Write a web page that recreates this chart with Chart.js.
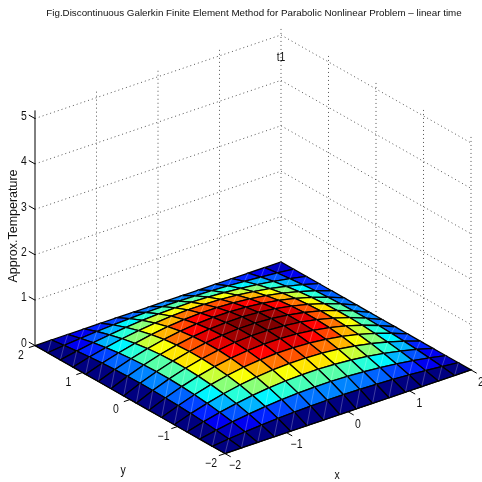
<!DOCTYPE html>
<html lang="en">
<head>
  <meta charset="UTF-8" />
  <title>Parabolic Nonlinear Problem</title>
  <script src="https://cdn.jsdelivr.net/npm/chart.js"></script>
  <style>
    html, body { margin: 0; padding: 0; background: #fff; }
    canvas { display: block; }
  </style>
</head>
<body>
  <canvas id="surf" width="482" height="482"></canvas>
  <script>
    const titleText = 'Fig.Discontinuous Galerkin Finite Element Method for Parabolic Nonlinear Problem \u2013 linear time';
    const xTicks = [-2, -1, 0, 1, 2];
    const yTicks = [-2, -1, 0, 1, 2];
    const zTicks = [0, 1, 2, 3, 4, 5];
    const zTop = 5.18;

    const gridX = [-2, -1.733, -1.467, -1.2, -0.933, -0.667, -0.4, -0.133, 0.133, 0.4, 0.667, 0.933, 1.2, 1.467, 1.733, 2];
    const gridY = [-2, -1.733, -1.467, -1.2, -0.933, -0.667, -0.4, -0.133, 0.133, 0.4, 0.667, 0.933, 1.2, 1.467, 1.733, 2];

    // heights, rows go with gridY
    const surfaceZ = [
      [0, 0, 0, 0, 0, 0, 0, 0, 0, 0, 0, 0, 0, 0, 0, 0],
      [0, .039, .072, .100, .123, .139, .150, .156, .156, .150, .139, .123, .100, .072, .039, 0],
      [0, .072, .134, .185, .226, .257, .278, .289, .289, .278, .257, .226, .185, .134, .072, 0],
      [0, .100, .185, .257, .314, .357, .386, .400, .400, .386, .357, .314, .257, .185, .100, 0],
      [0, .123, .226, .314, .384, .436, .471, .488, .488, .471, .436, .384, .314, .226, .123, 0],
      [0, .139, .257, .357, .436, .496, .535, .555, .555, .535, .496, .436, .357, .257, .139, 0],
      [0, .150, .278, .386, .471, .535, .578, .599, .599, .578, .535, .471, .386, .278, .150, 0],
      [0, .156, .289, .400, .488, .555, .599, .621, .621, .599, .555, .488, .400, .289, .156, 0],
      [0, .156, .289, .400, .488, .555, .599, .621, .621, .599, .555, .488, .400, .289, .156, 0],
      [0, .150, .278, .386, .471, .535, .578, .599, .599, .578, .535, .471, .386, .278, .150, 0],
      [0, .139, .257, .357, .436, .496, .535, .555, .555, .535, .496, .436, .357, .257, .139, 0],
      [0, .123, .226, .314, .384, .436, .471, .488, .488, .471, .436, .384, .314, .226, .123, 0],
      [0, .100, .185, .257, .314, .357, .386, .400, .400, .386, .357, .314, .257, .185, .100, 0],
      [0, .072, .134, .185, .226, .257, .278, .289, .289, .278, .257, .226, .185, .134, .072, 0],
      [0, .039, .072, .100, .123, .139, .150, .156, .156, .150, .139, .123, .100, .072, .039, 0],
      [0, 0, 0, 0, 0, 0, 0, 0, 0, 0, 0, 0, 0, 0, 0, 0]
    ];

    // 3D view: how one data unit along x, y, z lands on the flat chart scales
    const view = { xh: 61.5, xv: 20.9, yh: -47.5, yv: 27, zv: 45.4 };
    const project = (x, y, z) => ({
      x: x * view.xh + y * view.yh,
      y: x * view.xv + y * view.yv + z * view.zv
    });

    // MATLAB jet, 64 steps
    function jet(t) {
      const v = Math.min(63, Math.floor(t * 64)) / 63;
      const c = k => Math.max(0, Math.min(1, 1.5 - Math.abs(4 * v - k)));
      return `rgb(${Math.round(c(3) * 255)},${Math.round(c(2) * 255)},${Math.round(c(1) * 255)})`;
    }

    const zMax = Math.max(...surfaceZ.flat());
    const layers = [];   // back to front

    function addLine(points, color, width, dash) {
      layers.push({
        data: points, showLine: true, fill: false, tension: 0, pointRadius: 0, clip: false,
        borderColor: color, borderWidth: width, borderDash: dash || []
      });
    }

    // wall grid
    const dots = [1, 3];
    const dotColor = '#555';
    zTicks.slice(1).forEach(z => {
      addLine([project(-2, 2, z), project(2, 2, z), project(2, -2, z)], dotColor, 1, dots);
    });
    xTicks.slice(1).forEach(x => addLine([project(x, 2, 0), project(x, 2, zTop)], dotColor, 1, dots));
    yTicks.slice(0, 4).forEach(y => addLine([project(2, y, 0), project(2, y, zTop)], dotColor, 1, dots));

    // surface, far cells first, colour taken from the low corner of each cell
    for (let j = gridY.length - 2; j >= 0; j--) {
      for (let i = gridX.length - 2; i >= 0; i--) {
        const a = project(gridX[i], gridY[j], surfaceZ[j][i]);
        const b = project(gridX[i + 1], gridY[j], surfaceZ[j][i + 1]);
        const c = project(gridX[i + 1], gridY[j + 1], surfaceZ[j + 1][i + 1]);
        const d = project(gridX[i], gridY[j + 1], surfaceZ[j + 1][i]);
        layers.push({
          data: [a, b, c, d, a], showLine: true, fill: 'shape', tension: 0, pointRadius: 0, clip: false,
          backgroundColor: jet(surfaceZ[j][i] / zMax), borderColor: '#000', borderWidth: 1.3
        });
        addLine([a, c], 'rgba(255,255,255,0.35)', 0.7);
      }
    }

    // axes and tick marks
    addLine([project(-2, 2, 0), project(-2, 2, zTop)], '#000', 1);
    addLine([project(-2, 2, 0), project(-2, -2, 0), project(2, -2, 0)], '#000', 1);
    zTicks.forEach(z => addLine([project(-2, 2, z), project(-2, 2.13, z)], '#000', 1));
    yTicks.forEach(y => addLine([project(-2, y, 0), project(-2.1, y, 0)], '#000', 1));
    xTicks.forEach(x => addLine([project(x, -2, 0), project(x, -2.12, 0)], '#000', 1));

    const axisText = {
      id: 'axisText',
      afterDatasetsDraw(chart) {
        const { ctx, scales } = chart;
        // narrow the glyphs a little, the reference font is condensed
        const text = (px, py, str, angle, squeeze) => {
          ctx.save();
          ctx.translate(px, py);
          if (angle) ctx.rotate(angle);
          ctx.scale(squeeze || 0.87, 1);
          ctx.fillText(str, 0, 0);
          ctx.restore();
        };
        const put = (p, dx, dy, str) => {
          text(scales.x.getPixelForValue(p.x) + dx, scales.y.getPixelForValue(p.y) + dy, str);
        };
        const label = v => String(v).replace('-', '\u2212');
        ctx.save();
        ctx.fillStyle = '#111';
        ctx.font = '12px "Liberation Sans", sans-serif';
        ctx.textAlign = 'center';
        ctx.textBaseline = 'middle';
        zTicks.forEach(z => put(project(-2, 2, z), -11, -2, label(z)));
        yTicks.forEach(y => put(project(-2, y, 0), -14, 10.5, label(y)));
        xTicks.forEach(x => put(project(x, -2, 0), 10, 12.5, label(x)));
        text(scales.x.getPixelForValue(84), scales.y.getPixelForValue(-118), 'x');
        text(scales.x.getPixelForValue(-130), scales.y.getPixelForValue(-113), 'y');
        put(project(2, 2, 4.5), 0, 0, 't1');
        text(14, 226, 'Approx.Temperature', -Math.PI / 2, 1.04);
        ctx.restore();
      }
    };

    new Chart(document.getElementById('surf'), {
      type: 'scatter',
      data: { datasets: layers.reverse() },   // chart.js paints the first dataset last
      options: {
        responsive: false,
        animation: false,
        events: [],
        layout: { padding: { left: 26 } },
        scales: {
          x: { type: 'linear', display: false, min: -227, max: 229 },
          y: { type: 'linear', display: false, min: -124.25, max: 338.99 }
        },
        plugins: {
          legend: { display: false },
          tooltip: { enabled: false },
          title: {
            display: true,
            text: titleText,
            color: '#111',
            font: { family: '"Liberation Sans", sans-serif', size: 9.8, weight: 'normal', lineHeight: 1.2 },
            padding: { top: 7, bottom: 0 }
          }
        }
      },
      plugins: [axisText]
    });
  </script>
</body>
</html>
